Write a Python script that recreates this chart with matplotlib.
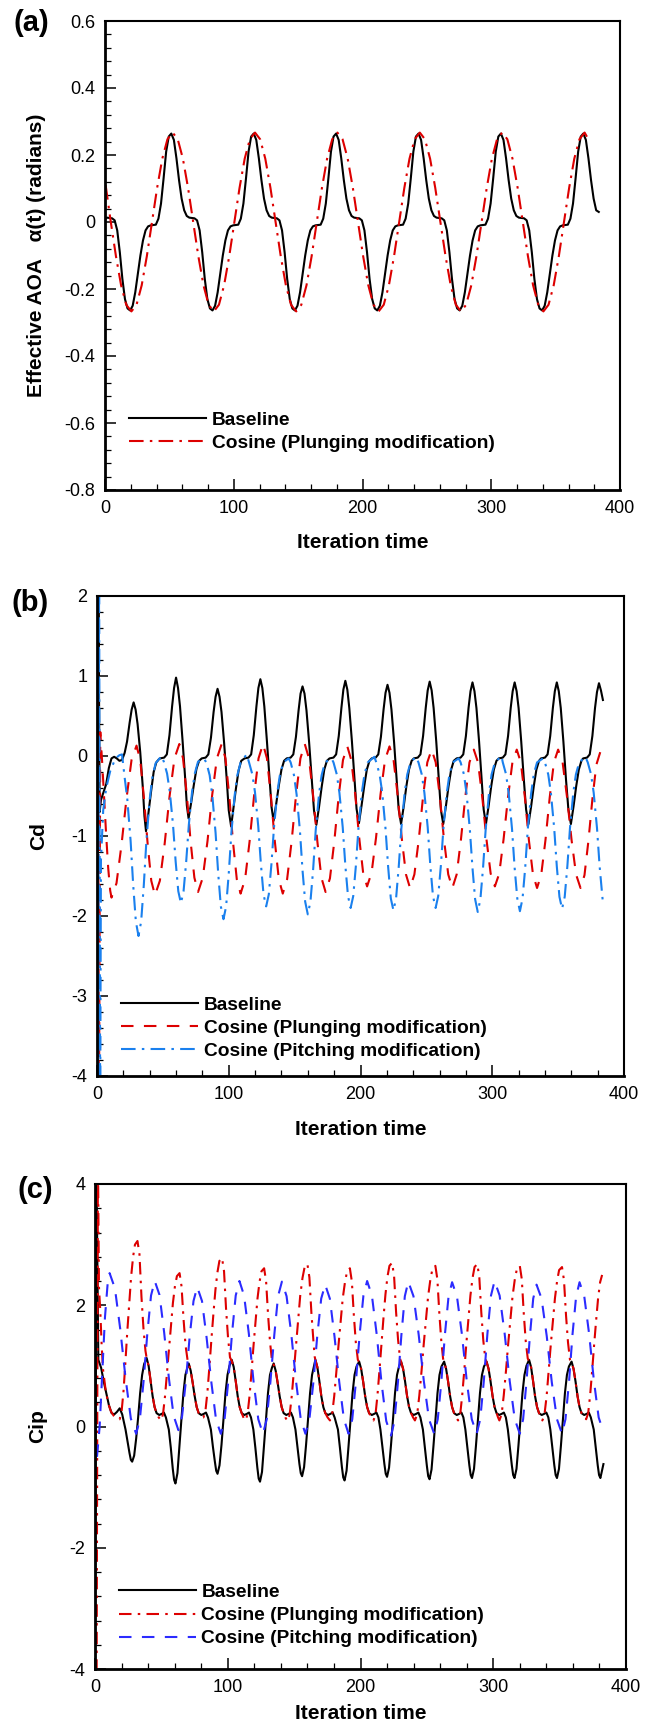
import numpy as np
import matplotlib
matplotlib.use("Agg")
import matplotlib.pyplot as plt
from matplotlib.ticker import MultipleLocator, FuncFormatter

plt.rcParams['font.family'] = ['Liberation Sans', 'DejaVu Sans']
plt.rcParams['axes.unicode_minus'] = False

# ---------------- DATA ----------------
# (a) Effective AOA, baseline: sampled every 2 iterations starting at x = 1.5
aoa_base_start = 1.5
aoa_base_step = 2.0
aoa_base_first = [0.008]   # value at x = 0
aoa_base_y = [
    0.013, 0.012, 0.011, 0.005, -0.025, -0.09, -0.17, -0.23, -0.258,
    -0.264, -0.25, -0.21, -0.155, -0.1, -0.055, -0.025, -0.013, -0.01, -0.009, -0.008, 0.01, 0.055, 0.13, 0.21, 0.255,
    0.264, 0.245, 0.19, 0.125, 0.07, 0.035, 0.018, 0.013, 0.012, 0.011, 0.005, -0.025, -0.09, -0.17, -0.23, -0.258,
    -0.264, -0.25, -0.21, -0.155, -0.1, -0.055, -0.025, -0.013, -0.01, -0.009, -0.008, 0.01, 0.055, 0.13, 0.21, 0.255,
    0.264, 0.245, 0.19, 0.125, 0.07, 0.035, 0.018, 0.013, 0.012, 0.011, 0.005, -0.025, -0.09, -0.17, -0.23, -0.258,
    -0.264, -0.25, -0.21, -0.155, -0.1, -0.055, -0.025, -0.013, -0.01, -0.009, -0.008, 0.01, 0.055, 0.13, 0.21, 0.255,
    0.264, 0.245, 0.19, 0.125, 0.07, 0.035, 0.018, 0.013, 0.012, 0.011, 0.005, -0.025, -0.09, -0.17, -0.23, -0.258,
    -0.264, -0.25, -0.21, -0.155, -0.1, -0.055, -0.025, -0.013, -0.01, -0.009, -0.008, 0.01, 0.055, 0.13, 0.21, 0.255,
    0.264, 0.245, 0.19, 0.125, 0.07, 0.035, 0.018, 0.013, 0.012, 0.011, 0.005, -0.025, -0.09, -0.17, -0.23, -0.258,
    -0.264, -0.25, -0.21, -0.155, -0.1, -0.055, -0.025, -0.013, -0.01, -0.009, -0.008, 0.01, 0.055, 0.13, 0.21, 0.255,
    0.264, 0.245, 0.19, 0.125, 0.07, 0.035, 0.018, 0.013, 0.012, 0.011, 0.005, -0.025, -0.09, -0.17, -0.23, -0.258,
    -0.264, -0.25, -0.21, -0.155, -0.1, -0.055, -0.025, -0.013, -0.01, -0.009, -0.008, 0.01, 0.055, 0.13, 0.21, 0.255,
    0.264, 0.245, 0.19, 0.125, 0.07, 0.035, 0.03,
]
# (a) Effective AOA, cosine plunging: sampled every 4 iterations starting at x = 0.5
aoa_cos_start = 0.5
aoa_cos_step = 4.0
aoa_cos_y = [
    0.11, 0.0, -0.102, -0.189, -0.247,
    -0.267, -0.247, -0.189, -0.102, 0.0, 0.102, 0.189, 0.247, 0.267, 0.247, 0.189, 0.102, 0.0, -0.102, -0.189, -0.247,
    -0.267, -0.247, -0.189, -0.102, 0.0, 0.102, 0.189, 0.247, 0.267, 0.247, 0.189, 0.102, 0.0, -0.102, -0.189, -0.247,
    -0.267, -0.247, -0.189, -0.102, 0.0, 0.102, 0.189, 0.247, 0.267, 0.247, 0.189, 0.102, 0.0, -0.102, -0.189, -0.247,
    -0.267, -0.247, -0.189, -0.102, 0.0, 0.102, 0.189, 0.247, 0.267, 0.247, 0.189, 0.102, 0.0, -0.102, -0.189, -0.247,
    -0.267, -0.247, -0.189, -0.102, 0.0, 0.102, 0.189, 0.247, 0.267, 0.247, 0.189, 0.102, 0.0, -0.102, -0.189, -0.247,
    -0.267, -0.247, -0.189, -0.102, 0.0, 0.102, 0.189, 0.247, 0.267, 0.24,
]

# (b) Cd
cd_baseline = [
    (0, -4.5), (1.0, 2.5), (2.0, -0.7), (3, -0.55), (5, -0.45), (7, -0.35), (9, -0.15), (11, -0.03), (13, -0.01),
    (15, -0.03), (17, -0.06), (19, -0.05), (21, 0.04), (22.8, 0.18), (24.8, 0.42), (26.3, 0.58), (27.8, 0.67),
    (29.3, 0.58), (30.8, 0.4), (32.8, 0.05), (34.8, -0.4), (36, -0.75), (37.2, -0.94), (39, -0.72), (41, -0.45),
    (43, -0.2), (45, -0.08), (47, -0.04),
    (48, -0.03), (51, -0.02), (53, 0.02), (55, 0.26), (57, 0.62), (58.5, 0.85), (60, 0.98), (61.5, 0.85), (63, 0.62),
    (65, 0.18), (67, -0.3), (68.2, -0.62), (69.5, -0.78), (71.5, -0.58), (73.5, -0.36), (75.5, -0.16), (77.5, -0.06),
    (79.5, -0.03), (82.5, -0.02), (84.5, 0.02), (86.5, 0.23), (88.5, 0.55), (90, 0.74), (91.5, 0.84), (93, 0.74),
    (94.5, 0.55), (96.5, 0.16), (98.5, -0.3), (100, -0.68), (101.8, -0.88), (103.5, -0.66), (105.5, -0.4),
    (107.5, -0.18), (109.5, -0.06),
    (112, -0.03), (115, -0.02), (117, 0.02), (119, 0.26), (121, 0.62), (122.5, 0.85), (124, 0.96), (125.5, 0.85),
    (127, 0.62), (129, 0.18), (131, -0.3), (132.5, -0.64), (134, -0.81), (136, -0.6), (138, -0.37), (140, -0.17),
    (142, -0.06),
    (144, -0.03), (147, -0.02), (149, 0.02), (151, 0.24), (153, 0.57), (154.5, 0.78), (156, 0.87), (157.5, 0.78),
    (159, 0.57), (161, 0.17), (163, -0.3), (164.7, -0.68), (166.5, -0.86), (168.5, -0.64), (170.5, -0.39),
    (172.5, -0.17), (174.5, -0.06),
    (176.5, -0.03), (179.5, -0.02), (181.5, 0.02), (183.5, 0.25), (185.5, 0.6), (187, 0.83), (188.5, 0.94),
    (190, 0.83), (191.5, 0.6), (193.5, 0.18), (195.5, -0.3), (197, -0.66), (198.8, -0.84), (200.8, -0.62),
    (202.8, -0.38), (204.8, -0.17), (206.8, -0.06),
    (208.5, -0.03), (211.5, -0.02), (213.5, 0.02), (215.5, 0.24), (217.5, 0.58), (219, 0.79), (220.5, 0.89),
    (222, 0.79), (223.5, 0.58), (225.5, 0.17), (227.5, -0.3), (229, -0.67), (230.8, -0.85), (232.8, -0.63),
    (234.8, -0.38), (236.8, -0.17), (238.8, -0.06),
    (240.5, -0.03), (243.5, -0.02), (245.5, 0.02), (247.5, 0.25), (249.5, 0.6), (251, 0.82), (252.5, 0.93),
    (254, 0.82), (255.5, 0.6), (257.5, 0.18), (259.5, -0.3), (261, -0.67), (262.8, -0.85), (264.8, -0.63),
    (266.8, -0.38), (268.8, -0.17), (270.8, -0.06),
    (273, -0.03), (276, -0.02), (278, 0.02), (280, 0.25), (282, 0.6), (283.5, 0.81), (285, 0.92), (286.5, 0.81),
    (288, 0.6), (290, 0.18), (292, -0.3), (293.5, -0.67), (295.2, -0.85), (297.2, -0.63), (299.2, -0.38),
    (301.2, -0.17), (303.2, -0.06),
    (305, -0.03), (308, -0.02), (310, 0.02), (312, 0.25), (314, 0.6), (315.5, 0.81), (317, 0.92), (318.5, 0.81),
    (320, 0.6), (322, 0.18), (324, -0.3), (325.7, -0.67), (327.5, -0.85), (329.5, -0.63), (331.5, -0.38),
    (333.5, -0.17), (335.5, -0.06),
    (337, -0.03), (340, -0.02), (342, 0.02), (344, 0.25), (346, 0.6), (347.5, 0.81), (349, 0.92), (350.5, 0.81),
    (352, 0.6), (354, 0.18), (356, -0.3), (357.8, -0.67), (359.7, -0.85), (361.7, -0.63), (363.7, -0.38),
    (365.7, -0.17), (367.7, -0.06),
    (369, -0.03), (372, -0.02), (374, 0.02), (376, 0.25), (378, 0.6), (379.5, 0.8), (381, 0.91), (382.5, 0.82),
    (384, 0.70),
]
cd_plunging = [
    (0.5, 2.5), (1.5, -4.5), (2.5, 0.3), (4, -0.1), (5.5, -0.55), (7, -1.0), (8.5, -1.4), (10, -1.68), (11, -1.77),
    (14.8, -1.59), (18.6, -1.11), (22.4, -0.53), (26.2, -0.05), (30, 0.13),
    (32.8, -0.05), (35.6, -0.52), (38.4, -1.09), (41.2, -1.56), (44, -1.74),
    (47.7, -1.56), (51.4, -1.09), (55.1, -0.50), (58.8, -0.03), (62.5, 0.15),
    (65.3, -0.03), (68.2, -0.49), (71.0, -1.06), (73.9, -1.52), (76.7, -1.70),
    (80.3, -1.52), (83.9, -1.06), (87.4, -0.49), (91.0, -0.03), (94.6, 0.15),
    (97.5, -0.03), (100.4, -0.50), (103.2, -1.07), (106.1, -1.54), (109, -1.72),
    (112.4, -1.54), (115.8, -1.07), (119.2, -0.50), (122.6, -0.03), (126, 0.15),
    (129, -0.03), (132, -0.50), (135, -1.07), (138, -1.54), (141, -1.72),
    (144.3, -1.54), (147.7, -1.07), (151, -0.50), (154.4, -0.03), (157.7, 0.15),
    (160.9, -0.03), (164, -0.49), (167.2, -1.06), (170.3, -1.52), (173.5, -1.70),
    (176.8, -1.53), (180.1, -1.07), (183.4, -0.51), (186.7, -0.05), (190, 0.12),
    (193, -0.05), (196, -0.48), (199, -1.02), (202, -1.46), (205, -1.63),
    (208.4, -1.46), (211.8, -1.02), (215.2, -0.48), (218.6, -0.05), (222, 0.12),
    (225.1, -0.05), (228.2, -0.49), (231.4, -1.04), (234.5, -1.48), (237.6, -1.65),
    (240.9, -1.48), (244.2, -1.05), (247.4, -0.52), (250.7, -0.08), (254, 0.08),
    (257.1, -0.08), (260.3, -0.52), (263.4, -1.05), (266.6, -1.48), (269.7, -1.65),
    (273, -1.48), (276.2, -1.05), (279.5, -0.52), (282.7, -0.08), (286, 0.08),
    (289.2, -0.08), (292.4, -0.51), (295.6, -1.04), (298.8, -1.47), (302, -1.63),
    (305.3, -1.47), (308.6, -1.04), (312, -0.51), (315.3, -0.08), (318.6, 0.08),
    (321.7, -0.08), (324.8, -0.52), (327.8, -1.05), (330.9, -1.48), (334, -1.65),
    (337.2, -1.48), (340.4, -1.05), (343.6, -0.52), (346.8, -0.08), (350, 0.08),
    (353.4, -0.08), (356.8, -0.52), (360.2, -1.05), (363.6, -1.48), (367, -1.65),
    (370, -1.49), (373, -1.06), (376, -0.54), (379, -0.11), (382, 0.05),
]
cd_pitching = [
    (0, 2.5), (0.8, -4.5), (1.6, 2.5), (2.4, -4.5), (3.0, -1.3), (4.7, -0.68), (7, -0.4), (10, -0.19), (14, -0.03),
    (17, 0.01), (19, 0.02),
    (21, -0.27), (23, -0.54), (25.5, -1.06), (27.5, -1.62), (29.5, -2.07), (31.5, -2.25), (33.5, -2.07),
    (35.5, -1.62), (37.5, -1.06), (40, -0.54), (42, -0.27), (44.5, -0.09), (49, 0.0),
    (50.7, -0.07), (53.2, -0.22), (55.2, -0.44), (57.7, -0.86), (59.7, -1.32), (61.7, -1.69), (63.7, -1.84),
    (65.7, -1.69), (67.7, -1.32), (69.7, -0.86), (72.2, -0.44), (74.2, -0.22), (76.7, -0.07), (81, -0.03),
    (83, -0.08), (85.5, -0.24), (87.5, -0.49), (90, -0.96), (92, -1.47), (94, -1.88), (96, -2.04), (98, -1.88),
    (100, -1.47), (102, -0.96), (104.5, -0.49), (106.5, -0.24), (109, -0.08), (113.6, 0.02),
    (115.4, -0.08), (117.9, -0.23), (119.9, -0.45), (122.4, -0.88), (124.4, -1.35), (126.4, -1.73), (128.4, -1.88),
    (130.4, -1.73), (132.4, -1.35), (134.4, -0.88), (136.9, -0.45), (138.9, -0.23), (141.4, -0.08), (145.5, -0.03),
    (147, -0.08), (149.5, -0.24), (151.5, -0.48), (154, -0.93), (156, -1.43), (158, -1.82), (160, -1.98),
    (162, -1.82), (164, -1.43), (166, -0.93), (168.5, -0.48), (170.5, -0.24), (173, -0.08), (178, -0.03),
    (179.5, -0.08), (182, -0.23), (184, -0.46), (186.5, -0.89), (188.5, -1.37), (190.5, -1.75), (192.5, -1.90),
    (194.5, -1.75), (196.5, -1.37), (198.5, -0.89), (201, -0.46), (203, -0.23), (205.5, -0.08), (210.5, -0.01),
    (212, -0.08), (214.5, -0.23), (216.5, -0.46), (219, -0.91), (221, -1.39), (223, -1.78), (225, -1.93),
    (227, -1.78), (229, -1.39), (231, -0.91), (233.5, -0.46), (235.5, -0.23), (238, -0.08), (242, -0.01),
    (244, -0.08), (246.5, -0.23), (248.5, -0.46), (251, -0.89), (253, -1.37), (255, -1.75), (257, -1.90),
    (259, -1.75), (261, -1.37), (263, -0.89), (265.5, -0.46), (267.5, -0.23), (270, -0.08), (274.5, -0.03),
    (276, -0.08), (278.5, -0.23), (280.5, -0.47), (283, -0.92), (285, -1.40), (287, -1.79), (289, -1.95),
    (291, -1.79), (293, -1.40), (295, -0.92), (297.5, -0.47), (299.5, -0.23), (302, -0.08), (307, 0.0),
    (308, -0.08), (310.5, -0.23), (312.5, -0.47), (315, -0.91), (317, -1.40), (319, -1.78), (321, -1.94),
    (323, -1.78), (325, -1.40), (327, -0.91), (329.5, -0.47), (331.5, -0.23), (334, -0.08), (338.5, -0.03),
    (340, -0.08), (342.5, -0.23), (344.5, -0.46), (347, -0.90), (349, -1.38), (351, -1.76), (353, -1.91),
    (355, -1.76), (357, -1.38), (359, -0.90), (361.5, -0.46), (363.5, -0.23), (366, -0.08), (370.7, -0.01),
    (372.5, -0.08), (375, -0.23), (377, -0.46), (379.5, -0.90), (381.5, -1.38), (383.8, -1.8),
]

# (c) Cip
cip_baseline = [
    (0, -4.5), (1, 4.5), (2.5, 1.1), (4.6, 0.97), (6.5, 0.75), (8.5, 0.55), (10.5, 0.35), (12.5, 0.22), (14.5, 0.2),
    (16.5, 0.24), (18.6, 0.3), (20.5, 0.2), (23, -0.05), (24.5, -0.25), (26, -0.44), (27, -0.55), (28, -0.58),
    (29.5, -0.48), (31, -0.2), (32.5, 0.15), (34, 0.55), (35.5, 0.85), (37, 1.03), (38.9, 1.13),
    (40.4, 1.0), (41.9, 0.75), (43.4, 0.5), (44.9, 0.32), (46.4, 0.22), (48.4, 0.19), (50.4, 0.21), (51.9, 0.23),
    (53.4, 0.15), (55.6, -0.05), (57.1, -0.35), (58.6, -0.7), (59.6, -0.88), (60.6, -0.94), (62.1, -0.77),
    (63.6, -0.32), (65.1, 0.12), (66.6, 0.55), (68.1, 0.85), (69.6, 0.97), (70.6, 1.04),
    (72.1, 0.92), (73.6, 0.72), (75.1, 0.5), (76.6, 0.32), (78.1, 0.22), (80.1, 0.19), (82.1, 0.21), (83.6, 0.23),
    (85.1, 0.15), (87.3, -0.05), (88.8, -0.33), (90.3, -0.58), (91.3, -0.73), (92.3, -0.78), (93.8, -0.64),
    (95.3, -0.3), (96.8, 0.12), (98.3, 0.55), (99.8, 0.85), (101.3, 1.0), (103, 1.1),
    (104.5, 0.98), (106, 0.75), (107.5, 0.5), (109, 0.32), (110.5, 0.22), (112.5, 0.19), (114.5, 0.21), (116, 0.23),
    (117.5, 0.15), (119.3, -0.05), (120.8, -0.35), (122.3, -0.68), (123.3, -0.86), (124.3, -0.91), (125.8, -0.75),
    (127.3, -0.32), (128.8, 0.12), (130.3, 0.55), (131.8, 0.85), (133.3, 0.97), (134.6, 1.04),
    (136.1, 0.92), (137.6, 0.72), (139.1, 0.5), (140.6, 0.32), (142.1, 0.22), (144.1, 0.19), (146.1, 0.21),
    (147.6, 0.23), (149.1, 0.15), (151, -0.05), (152.5, -0.34), (154, -0.62), (155, -0.77), (156, -0.82),
    (157.5, -0.67), (159, -0.3), (160.5, 0.12), (162, 0.55), (163.5, 0.85), (165, 1.0), (166, 1.1),
    (167.5, 0.98), (169, 0.75), (170.5, 0.5), (172, 0.32), (173.5, 0.22), (175.5, 0.19), (177.5, 0.21), (179, 0.23),
    (180.5, 0.15), (183, -0.05), (184.5, -0.35), (186, -0.67), (187, -0.84), (188, -0.89), (189.5, -0.73),
    (191, -0.32), (192.5, 0.12), (194, 0.55), (195.5, 0.85), (197, 0.99), (199, 1.07),
    (200.5, 0.95), (202, 0.74), (203.5, 0.5), (205, 0.32), (206.5, 0.22), (208.5, 0.19), (210.5, 0.21), (212, 0.23),
    (213.5, 0.15), (215, -0.05), (216.5, -0.34), (218, -0.62), (219, -0.78), (220, -0.83), (221.5, -0.68),
    (223, -0.3), (224.5, 0.12), (226, 0.55), (227.5, 0.85), (229, 0.99), (230.6, 1.07),
    (232.1, 0.95), (233.6, 0.74), (235.1, 0.5), (236.6, 0.32), (238.1, 0.22), (240.1, 0.19), (242.1, 0.21),
    (243.6, 0.23), (245.1, 0.15), (247, -0.05), (248.5, -0.35), (250, -0.65), (251, -0.82), (252, -0.87),
    (253.5, -0.71), (255, -0.31), (256.5, 0.12), (258, 0.55), (259.5, 0.85), (261, 0.99), (263, 1.07),
    (264.5, 0.95), (266, 0.74), (267.5, 0.5), (269, 0.32), (270.5, 0.22), (272.5, 0.19), (274.5, 0.21), (276, 0.23),
    (277.5, 0.15), (279, -0.05), (280.5, -0.35), (282, -0.64), (283, -0.8), (284, -0.85), (285.5, -0.7),
    (287, -0.31), (288.5, 0.12), (290, 0.55), (291.5, 0.85), (293, 0.99), (295, 1.07),
    (296.5, 0.95), (298, 0.74), (299.5, 0.5), (301, 0.32), (302.5, 0.22), (304.5, 0.19), (306.5, 0.21), (308, 0.23),
    (309.5, 0.15), (311, -0.05), (312.5, -0.35), (314, -0.64), (315, -0.8), (316, -0.85), (317.5, -0.7),
    (319, -0.31), (320.5, 0.12), (322, 0.55), (323.5, 0.85), (325, 1.0), (327, 1.1),
    (328.5, 0.98), (330, 0.75), (331.5, 0.5), (333, 0.32), (334.5, 0.22), (336.5, 0.19), (338.5, 0.21), (340, 0.23),
    (341.5, 0.15), (343, -0.05), (344.5, -0.35), (346, -0.64), (347, -0.8), (348, -0.85), (349.5, -0.7),
    (351, -0.31), (352.5, 0.12), (354, 0.55), (355.5, 0.85), (357, 0.99), (359, 1.07),
    (360.5, 0.95), (362, 0.74), (363.5, 0.5), (365, 0.32), (366.5, 0.22), (368.5, 0.19), (370.5, 0.21), (372, 0.23),
    (373.5, 0.15), (375.7, -0.05), (377.2, -0.35), (378.7, -0.64), (379.7, -0.8), (380.7, -0.85), (382.2, -0.7),
    (383, -0.62),
]
cip_plunging = [
    (1.2, -4.5), (2.2, 4.5), (3, 2.3), (4, 1.9), (5, 1.35), (6, 0.95), (8, 0.6), (10, 0.38), (12, 0.25), (14, 0.18),
    (16, 0.14), (18.6, 0.12),
    (20.0, 0.24), (21.5, 0.59), (22.9, 1.06), (24.3, 1.56), (25.8, 2.03), (27.2, 2.47), (28.7, 2.80), (30.1, 3.0),
    (32, 3.06), (33.5, 2.84), (35, 2.14), (36.5, 1.62), (38, 1.25), (38.9, 1.13), (40.4, 1.0), (41.9, 0.75),
    (43.4, 0.5), (44.9, 0.32), (46.4, 0.22), (48, 0.15), (49.7, 0.1),
    (51.2, 0.2), (52.7, 0.49), (54.2, 0.88), (55.7, 1.29), (57.2, 1.68), (58.7, 2.04), (60.2, 2.31), (61.7, 2.48),
    (63.7, 2.53), (65.2, 2.31), (66.7, 1.77), (68.2, 1.34), (69.7, 1.1), (70.6, 1.04), (72.1, 0.92), (73.6, 0.72),
    (75.1, 0.5), (76.6, 0.32), (78.1, 0.22), (79.8, 0.16), (81.7, 0.15),
    (83.2, 0.26), (84.7, 0.57), (86.2, 0.99), (87.7, 1.44), (89.2, 1.86), (90.7, 2.25), (92.2, 2.54), (93.7, 2.73),
    (95.7, 2.78), (97.2, 2.56), (98.7, 1.95), (100.2, 1.47), (101.7, 1.14), (103, 1.08), (104.5, 0.98), (106, 0.75),
    (107.5, 0.5), (109, 0.32), (110.5, 0.22), (112, 0.14), (113.4, 0.1),
    (114.9, 0.2), (116.4, 0.5), (117.9, 0.9), (119.4, 1.33), (120.9, 1.73), (122.4, 2.11), (123.9, 2.38),
    (125.4, 2.56), (127.4, 2.61), (128.9, 2.39), (130.4, 1.83), (131.9, 1.38), (133.4, 1.07), (134.6, 1.02),
    (136.1, 0.92), (137.6, 0.72), (139.1, 0.5), (140.6, 0.32), (142.1, 0.22), (143.6, 0.14), (145, 0.09),
    (146.6, 0.19), (148.2, 0.50), (149.8, 0.92), (151.4, 1.36), (153, 1.77), (154.6, 2.16), (156.3, 2.45),
    (157.9, 2.63), (160, 2.68), (161.5, 2.46), (163, 1.88), (164.5, 1.42), (165.5, 1.15), (166, 1.1), (167.5, 0.98),
    (169, 0.75), (170.5, 0.5), (172, 0.32), (173.5, 0.22), (175.2, 0.15), (177, 0.1),
    (178.6, 0.2), (180.2, 0.5), (181.8, 0.9), (183.4, 1.33), (185, 1.73), (186.6, 2.11), (188.3, 2.38), (189.9, 2.56),
    (192, 2.61), (193.5, 2.39), (195, 1.83), (196.5, 1.38), (198, 1.1), (199, 1.06), (200.5, 0.95), (202, 0.74),
    (203.5, 0.5), (205, 0.32), (206.5, 0.22), (208.2, 0.15), (209.8, 0.1),
    (211.3, 0.2), (212.8, 0.52), (214.3, 0.93), (215.8, 1.37), (217.3, 1.79), (218.8, 2.18), (220.3, 2.47),
    (221.8, 2.65), (223.8, 2.70), (225.3, 2.48), (226.8, 1.89), (228.3, 1.43), (229.8, 1.12), (230.6, 1.06),
    (232.1, 0.95), (233.6, 0.74), (235.1, 0.5), (236.6, 0.32), (238.1, 0.22), (239.6, 0.15), (241, 0.1),
    (242.7, 0.2), (244.3, 0.51), (246, 0.92), (247.6, 1.35), (249.3, 1.76), (250.9, 2.14), (252.6, 2.42),
    (254.2, 2.6), (256.4, 2.65), (257.9, 2.43), (259.4, 1.86), (260.9, 1.4), (262.2, 1.12), (263, 1.06),
    (264.5, 0.95), (266, 0.74), (267.5, 0.5), (269, 0.32), (270.5, 0.22), (272, 0.15), (273.5, 0.1),
    (275.1, 0.2), (276.6, 0.51), (278.2, 0.93), (279.7, 1.36), (281.3, 1.78), (282.8, 2.16), (284.4, 2.45),
    (285.9, 2.63), (288, 2.68), (289.5, 2.46), (291, 1.88), (292.5, 1.42), (294, 1.12), (295, 1.06), (296.5, 0.95),
    (298, 0.74), (299.5, 0.5), (301, 0.32), (302.5, 0.22), (303.6, 0.15), (304.6, 0.1),
    (306.3, 0.2), (307.9, 0.51), (309.6, 0.92), (311.2, 1.35), (312.9, 1.76), (314.5, 2.14), (316.2, 2.42),
    (317.8, 2.6), (320, 2.65), (321.5, 2.43), (323, 1.86), (324.5, 1.4), (326, 1.12), (327, 1.08), (328.5, 0.98),
    (330, 0.75), (331.5, 0.5), (333, 0.32), (334.5, 0.22), (335.8, 0.15), (337, 0.1),
    (338.6, 0.2), (340.2, 0.5), (341.7, 0.91), (343.3, 1.34), (344.9, 1.74), (346.5, 2.12), (348.1, 2.4),
    (349.6, 2.58), (351.8, 2.63), (353.3, 2.41), (354.8, 1.84), (356.3, 1.39), (357.8, 1.1), (359, 1.06),
    (360.5, 0.95), (362, 0.74), (363.5, 0.5), (365, 0.32), (366.5, 0.22), (368.2, 0.15), (370, 0.12),
    (371.5, 0.22), (373, 0.52), (374.5, 0.92), (376, 1.35), (377.5, 1.75), (379, 2.12), (380.5, 2.38), (382, 2.5),
]
cip_pitching = [
    (1.5, -0.5), (3.5, 0.0), (5.5, 0.9), (7.5, 1.8), (9.5, 2.35), (11, 2.53),
    (15, 2.28), (19, 1.61), (23, 0.80), (27, 0.13), (31, -0.12),
    (33.8, 0.12), (36.6, 0.75), (39.4, 1.53), (42.2, 2.16), (45, 2.40),
    (48.6, 2.17), (52.1, 1.55), (55.7, 0.79), (59.2, 0.18), (62.8, -0.06),
    (65.6, 0.17), (68.5, 0.76), (71.3, 1.48), (74.2, 2.07), (77, 2.30),
    (80.6, 2.07), (84.1, 1.46), (87.7, 0.72), (91.2, 0.11), (94.8, -0.12),
    (97.6, 0.12), (100.4, 0.75), (103.2, 1.53), (106, 2.16), (108.8, 2.40),
    (112.3, 2.16), (115.9, 1.53), (119.4, 0.75), (123, 0.12), (126.5, -0.12),
    (129.4, 0.12), (132.2, 0.75), (135.1, 1.52), (137.9, 2.15), (140.8, 2.39),
    (144.3, 2.15), (147.9, 1.52), (151.4, 0.75), (155, 0.12), (158.5, -0.12),
    (161.5, 0.12), (164.5, 0.73), (167.4, 1.49), (170.4, 2.11), (173.4, 2.34),
    (176.9, 2.11), (180.4, 1.49), (184, 0.73), (187.5, 0.12), (191, -0.12),
    (193.8, 0.12), (196.6, 0.75), (199.4, 1.53), (202.2, 2.16), (205, 2.40),
    (208.6, 2.16), (212.2, 1.52), (215.8, 0.73), (219.4, 0.09), (223, -0.15),
    (225.6, 0.09), (228.2, 0.73), (230.8, 1.51), (233.4, 2.15), (236, 2.39),
    (239.9, 2.15), (243.8, 1.52), (247.7, 0.75), (251.6, 0.12), (255.5, -0.12),
    (258.2, 0.12), (260.9, 0.74), (263.6, 1.52), (266.3, 2.14), (269, 2.38),
    (272.7, 2.14), (276.4, 1.52), (280.1, 0.74), (283.8, 0.12), (287.5, -0.12),
    (290.2, 0.12), (292.9, 0.75), (295.6, 1.53), (298.3, 2.16), (301, 2.40),
    (304.8, 2.16), (308.6, 1.53), (312.4, 0.75), (316.2, 0.12), (320, -0.12),
    (322.5, 0.12), (325, 0.73), (327.6, 1.49), (330.1, 2.11), (332.6, 2.34),
    (336.4, 2.11), (340.3, 1.49), (344.1, 0.73), (348, 0.12), (351.8, -0.12),
    (354.4, 0.12), (357.1, 0.74), (359.7, 1.52), (362.4, 2.14), (365, 2.38),
    (368.6, 2.14), (372.2, 1.53), (375.8, 0.76), (379.4, 0.15), (383, -0.09),
]

legend_labels = ["Baseline", "Cosine (Plunging modification)", "Cosine (Pitching modification)"]
panel_tags = ["(a)", "(b)", "(c)"]
x_label = "Iteration time"
y_labels = ["Effective AOA   \u03b1(t) (radians)", "Cd", "Cip"]

# ---------------- STYLE ----------------
RED = '#dd0000'
BLUE_B = '#1a80ee'
BLUE_C = '#2b2bff'
LW = 1.5
LEG_SIZE = 13.8
TICK_SIZE = 13

W, H = 646, 1729
fig = plt.figure(figsize=(W / 100, H / 100), dpi=100)


def ax_rect(left, right, top, bottom):
    return [left / W, 1 - bottom / H, (right - left) / W, (bottom - top) / H]


def fmt(v, pos):
    if abs(v) < 1e-9:
        v = 0.0
    return ('%g' % round(v, 6))


def style(ax, ylim, ymaj, ymin):
    ax.set_xlim(0, 400)
    ax.set_ylim(*ylim)
    ax.xaxis.set_major_locator(MultipleLocator(100))
    ax.xaxis.set_minor_locator(MultipleLocator(20))
    ax.yaxis.set_major_locator(MultipleLocator(ymaj))
    ax.yaxis.set_minor_locator(MultipleLocator(ymin))
    ax.xaxis.set_major_formatter(FuncFormatter(fmt))
    ax.yaxis.set_major_formatter(FuncFormatter(fmt))
    ax.tick_params(which='both', direction='in', top=False, right=False)
    ax.tick_params(which='major', length=8, width=1.1, labelsize=TICK_SIZE, pad=7)
    ax.tick_params(which='minor', length=4.5, width=0.9)
    for s in ['top', 'right']:
        ax.spines[s].set_linewidth(1.5)
    for s in ['left', 'bottom']:
        ax.spines[s].set_linewidth(2.0)


def xy(pairs):
    a = np.array(pairs, dtype=float)
    return a[:, 0], a[:, 1]


def add_legend(ax, handles, anchor):
    ax.legend(handles=handles, loc='upper left', bbox_to_anchor=anchor, frameon=False,
              prop={'weight': 'bold', 'size': LEG_SIZE}, handlelength=4.0, handletextpad=0.3,
              labelspacing=0.3, borderpad=0, borderaxespad=0)


# ---- (a)
ax1 = fig.add_axes(ax_rect(105, 620, 21, 490))
xb = np.concatenate([[0.0], aoa_base_start + aoa_base_step * np.arange(len(aoa_base_y))])
yb = np.concatenate([aoa_base_first, aoa_base_y])
xc = aoa_cos_start + aoa_cos_step * np.arange(len(aoa_cos_y))
l1, = ax1.plot(xb, yb, color='black', lw=LW, label=legend_labels[0])
l2, = ax1.plot(xc, aoa_cos_y, color=RED, lw=LW, linestyle=(0, (7, 3, 1.2, 3)), label=legend_labels[1])
style(ax1, (-0.8, 0.6), 0.2, 0.04)
add_legend(ax1, [l1, l2], (0.047, 0.168))

# ---- (b)
ax2 = fig.add_axes(ax_rect(97, 624, 596, 1076))
x, y = xy(cd_baseline)
m1, = ax2.plot(x, y, color='black', lw=LW, label=legend_labels[0])
x, y = xy(cd_plunging)
m2, = ax2.plot(x, y, color=RED, lw=LW, linestyle=(0, (6, 5)), label=legend_labels[1])
x, y = xy(cd_pitching)
m3, = ax2.plot(x, y, color=BLUE_B, lw=LW, linestyle=(0, (7, 3, 1.2, 3)), label=legend_labels[2])
style(ax2, (-4, 2), 1, 0.2)
add_legend(ax2, [m1, m2, m3], (0.046, 0.166))

# ---- (c)
ax3 = fig.add_axes(ax_rect(95, 626, 1184, 1669))
x, y = xy(cip_baseline)
n1, = ax3.plot(x, y, color='black', lw=LW, label=legend_labels[0])
x, y = xy(cip_plunging)
n2, = ax3.plot(x, y, color=RED, lw=LW, linestyle=(0, (6, 3, 1.2, 3)), label=legend_labels[1])
x, y = xy(cip_pitching)
n3, = ax3.plot(x, y, color=BLUE_C, lw=LW, linestyle=(0, (6, 5)), label=legend_labels[2])
style(ax3, (-4, 4), 2, 0.4)
add_legend(ax3, [n1, n2, n3], (0.045, 0.176))

# labels
for ax, yl, ylx, xly in [(ax1, y_labels[0], -0.115, -0.092),
                         (ax2, y_labels[1], -0.093, -0.092),
                         (ax3, y_labels[2], -0.090, -0.072)]:
    ax.set_xlabel(x_label, fontsize=15, fontweight='bold')
    ax.set_ylabel(yl, fontsize=15, fontweight='bold')
    ax.xaxis.set_label_coords(0.5, xly)
    ax.yaxis.set_label_coords(ylx, 0.5)

for tag, (px, py) in zip(panel_tags, [(31, 23), (30, 603), (35, 1190)]):
    fig.text(px / W, 1 - py / H, tag, ha='center', va='center', fontsize=21, fontweight='bold')

fig.savefig('out.png', dpi=100)
